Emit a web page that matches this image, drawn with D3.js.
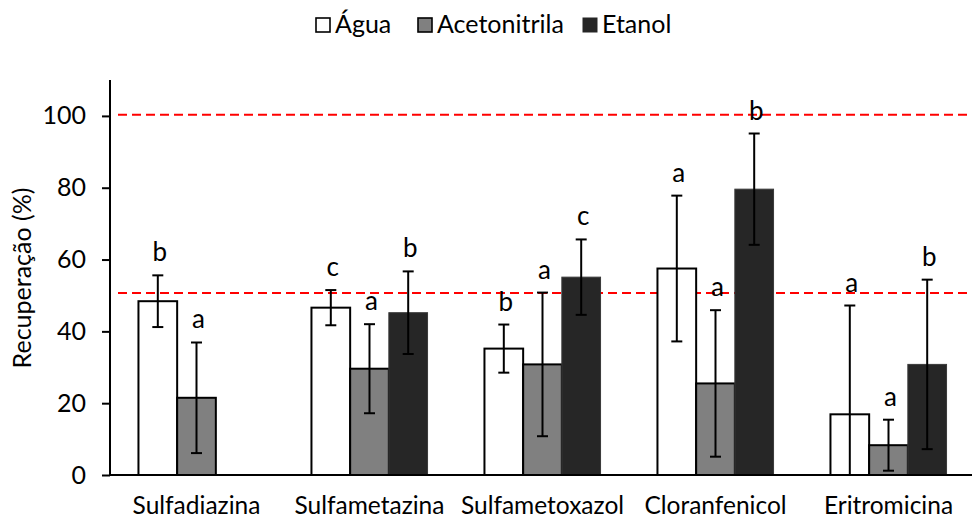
<!DOCTYPE html>
<html><head><meta charset="utf-8">
<script src="https://cdn.jsdelivr.net/npm/d3@7"></script>
<style>body{margin:0;background:#fff}svg{display:block}</style>
</head><body>
<script>
const categories = ["Sulfadiazina","Sulfametazina","Sulfametoxazol","Cloranfenicol","Eritromicina"];
const seriesNames = ["Água","Acetonitrila","Etanol"];
const agua = [48.4, 46.6, 35.2, 57.5, 16.9];
const aguaErr = [7.2, 4.9, 6.7, 20.3, 30.3];
const acetonitrila = [21.5, 29.6, 30.8, 25.5, 8.3];
const acetonitrilaErr = [15.4, 12.4, 20.0, 20.4, 7.1];
const etanol = [0, 45.2, 55.1, 79.6, 30.8];
const etanolErr = [0, 11.5, 10.5, 15.5, 23.6];
const lettersAgua = ["b","c","b","a","a"];
const lettersAcetonitrila = ["a","a","a","a","a"];
const lettersEtanol = ["","b","c","b","b"];
const refLines = [100.3, 50.7];
const yTicks = [0,20,40,60,80,100];

const W = 972, H = 521;
const FONT = "Lato, 'Open Sans', sans-serif";
const svg = d3.select("body").append("svg").attr("width",W).attr("height",H)
  .style("font-family",FONT);

const y = d3.scaleLinear().domain([0,110]).range([475,80]);
const x = d3.scaleBand().domain(categories).range([110,975]).paddingInner(0).paddingOuter(0);
const groupW = x.bandwidth()*0.671;
const xs = d3.scaleBand().domain(seriesNames).range([0,groupW]);

const series = [
  {name:"Água", vals:agua, err:aguaErr, letters:lettersAgua, fill:"#ffffff", stroke:"#000", sw:2},
  {name:"Acetonitrila", vals:acetonitrila, err:acetonitrilaErr, letters:lettersAcetonitrila, fill:"#808080", stroke:"#000", sw:2},
  {name:"Etanol", vals:etanol, err:etanolErr, letters:lettersEtanol, fill:"#262626", stroke:"#3a3a3a", sw:1}
];

svg.selectAll("line.ref").data(refLines).join("line")
  .attr("x1",118).attr("x2",W).attr("y1",d=>y(d)).attr("y2",d=>y(d))
  .attr("stroke","#ff0000").attr("stroke-width",2).attr("stroke-dasharray","9,5");

const gx = c => x(c) + (x.bandwidth()-groupW)/2;

series.forEach(s=>{
  const g = svg.append("g");
  categories.forEach((c,i)=>{
    const v = s.vals[i];
    const x0 = gx(c) + xs(s.name);
    const bw = xs.bandwidth();
    if (v>0) {
      g.append("rect").attr("x",x0).attr("y",y(v)).attr("width",bw).attr("height",y(0)-y(v))
        .attr("fill",s.fill).attr("stroke",s.stroke).attr("stroke-width",s.sw);
    }
  });
});

series.forEach(s=>{
  const g = svg.append("g");
  categories.forEach((c,i)=>{
    const v = s.vals[i], e = s.err[i];
    if (v<=0) return;
    const cx = gx(c) + xs(s.name) + xs.bandwidth()/2;
    const hi = v+e, lo = Math.max(0, v-e);
    g.append("line").attr("x1",cx).attr("x2",cx).attr("y1",y(hi)).attr("y2",y(lo))
      .attr("stroke","#000").attr("stroke-width",2);
    g.append("line").attr("x1",cx-5.5).attr("x2",cx+5.5).attr("y1",y(hi)).attr("y2",y(hi))
      .attr("stroke","#000").attr("stroke-width",2);
    if (v-e>0) {
      g.append("line").attr("x1",cx-5.5).attr("x2",cx+5.5).attr("y1",y(lo)).attr("y2",y(lo))
        .attr("stroke","#000").attr("stroke-width",2);
    }
    g.append("text").attr("x",cx+2).attr("y",y(hi)-14).attr("text-anchor","middle")
      .attr("font-size",26).attr("fill","#000").text(s.letters[i]);
  });
});

const yAxis = d3.axisLeft(y).tickValues(yTicks).tickSize(8).tickPadding(8);
const ya = svg.append("g").attr("transform","translate(110,0)").call(yAxis);
ya.select(".domain").remove();
ya.selectAll(".tick line").attr("stroke","#000").attr("stroke-width",2);
ya.selectAll(".tick text").attr("font-size",25).attr("font-family",FONT).attr("fill","#000").attr("dx","-8");
svg.append("line").attr("x1",110).attr("x2",110).attr("y1",y(110)).attr("y2",y(0)+1)
  .attr("stroke","#000").attr("stroke-width",2);

svg.append("line").attr("x1",109).attr("x2",W).attr("y1",y(0)).attr("y2",y(0))
  .attr("stroke","#000").attr("stroke-width",2);
svg.selectAll("text.cat").data(categories).join("text").attr("class","cat")
  .attr("x",d=>x(d)+x.bandwidth()/2).attr("y",514).attr("text-anchor","middle")
  .attr("font-size",24.5).attr("fill","#000").text(d=>d);

svg.append("text").attr("transform","translate(31,278) rotate(-90)").attr("text-anchor","middle")
  .attr("font-size",25).attr("fill","#000").text("Recuperação (%)");

const legendX = [316, 418, 583];
series.forEach((s,i)=>{
  svg.append("rect").attr("x",legendX[i]).attr("y",18).attr("width",14).attr("height",14)
    .attr("fill",s.fill).attr("stroke",i===2?s.fill:"#000").attr("stroke-width",i===2?1:1.6);
  svg.append("text").attr("x",legendX[i]+19).attr("y",33).attr("font-size",25).attr("fill","#000").text(s.name);
});
</script>
</body></html>
